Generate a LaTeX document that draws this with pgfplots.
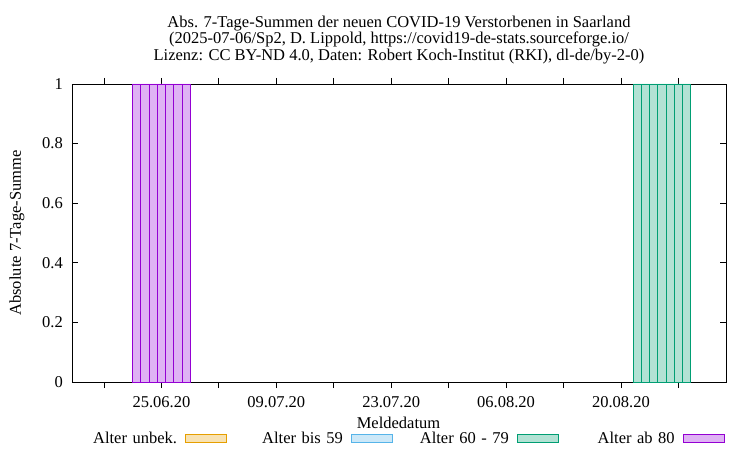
\documentclass[border=0pt]{standalone}
\usepackage{fontspec}
\setmainfont{Liberation Serif}
\usepackage{pgfplots}
\pgfplotsset{compat=1.18}
\definecolor{vio}{HTML}{9400D3}
\definecolor{viofill}{HTML}{DFB2F4}
\definecolor{grn}{HTML}{009E73}
\definecolor{grnfill}{HTML}{B2E2D4}
\definecolor{org}{HTML}{E69F00}
\definecolor{orgfill}{HTML}{F8E2B2}
\definecolor{sky}{HTML}{56B4E9}
\definecolor{skyfill}{HTML}{CCE8F8}
\newcommand{\gpfont}{\fontsize{16.5}{16.3}\selectfont}
\begin{document}
\begin{tikzpicture}
\begin{axis}[
    name=ax,
    scale only axis,
    width=654pt, height=298pt,
    xmin=-3.9, xmax=75.8,
    ymin=0, ymax=1,
    ytick={0,0.2,0.4,0.6,0.8,1},
    yticklabels={0,0.2,0.4,0.6,0.8,1},
    % days counted from 18.06.2020
    xtick={0,7,...,70},
    xticklabels={,25.06.20,,09.07.20,,23.07.20,,06.08.20,,20.08.20,},
    major tick length=6pt,
    tick style={black, line width=0.8pt},
    axis line style={line width=0.9pt},
    ticklabel style={font=\gpfont, inner sep=0pt},
    yticklabel style={xshift=-9pt},
    xticklabel style={anchor=base, yshift=-19pt},
    ybar, bar width=1, bar shift=0pt,
    title={Abs. 7-Tage-Summen der neuen COVID-19 Verstorbenen in Saarland\\(2025-07-06/Sp2, D. Lippold, https://covid19-de-stats.sourceforge.io/\\Lizenz: CC BY-ND 4.0, Daten: Robert Koch-Institut (RKI), dl-de/by-2-0)},
    title style={at={(axis description cs:0.5,1)}, anchor=north, yshift=62pt, inner sep=0pt, align=center, font=\gpfont},
    xlabel={Meldedatum},
    xlabel style={at={(axis description cs:0.4992,0)}, anchor=base, yshift=-46pt, inner sep=0pt, font=\gpfont},
    ylabel={Absolute 7-Tage-Summe},
    ylabel style={at={(axis description cs:-0.0841,0.5)}, anchor=center, inner sep=0pt, font=\gpfont},
    legend image code/.code={\draw[#1] (0pt,-4pt) rectangle (41pt,4pt);},
    legend plot pos=right,
    legend cell align=right,
    legend style={at={(axis description cs:0.00765,-0.191)}, anchor=west, draw=none, fill=none,
        inner sep=0pt, outer sep=0pt,
        legend columns=4, font=\gpfont,
        nodes={text width=100pt, align=right, inner sep=0pt},
        /tikz/every odd column/.append style={column sep=8pt},
        /tikz/every even column/.append style={column sep=16pt}},
]
\addlegendimage{draw=org, fill=orgfill, line width=0.9pt}
\addlegendentry{Alter unbek.}
\addlegendimage{draw=sky, fill=skyfill, line width=0.9pt}
\addlegendentry{Alter bis 59}
\addplot[draw=grn, fill=grnfill, line width=0.9pt] coordinates {
(65,1) (66,1) (67,1) (68,1) (69,1) (70,1) (71,1)};
\addlegendentry{Alter 60 - 79}
\addplot[draw=vio, fill=viofill, line width=0.9pt] coordinates {
(4,1) (5,1) (6,1) (7,1) (8,1) (9,1) (10,1)};
\addlegendentry{Alter ab 80}
\end{axis}
\pgfresetboundingbox
\path ([shift={(-72pt,-68pt)}]ax.south west) rectangle ([shift={(24pt,84pt)}]ax.north east);
\end{tikzpicture}
\end{document}
